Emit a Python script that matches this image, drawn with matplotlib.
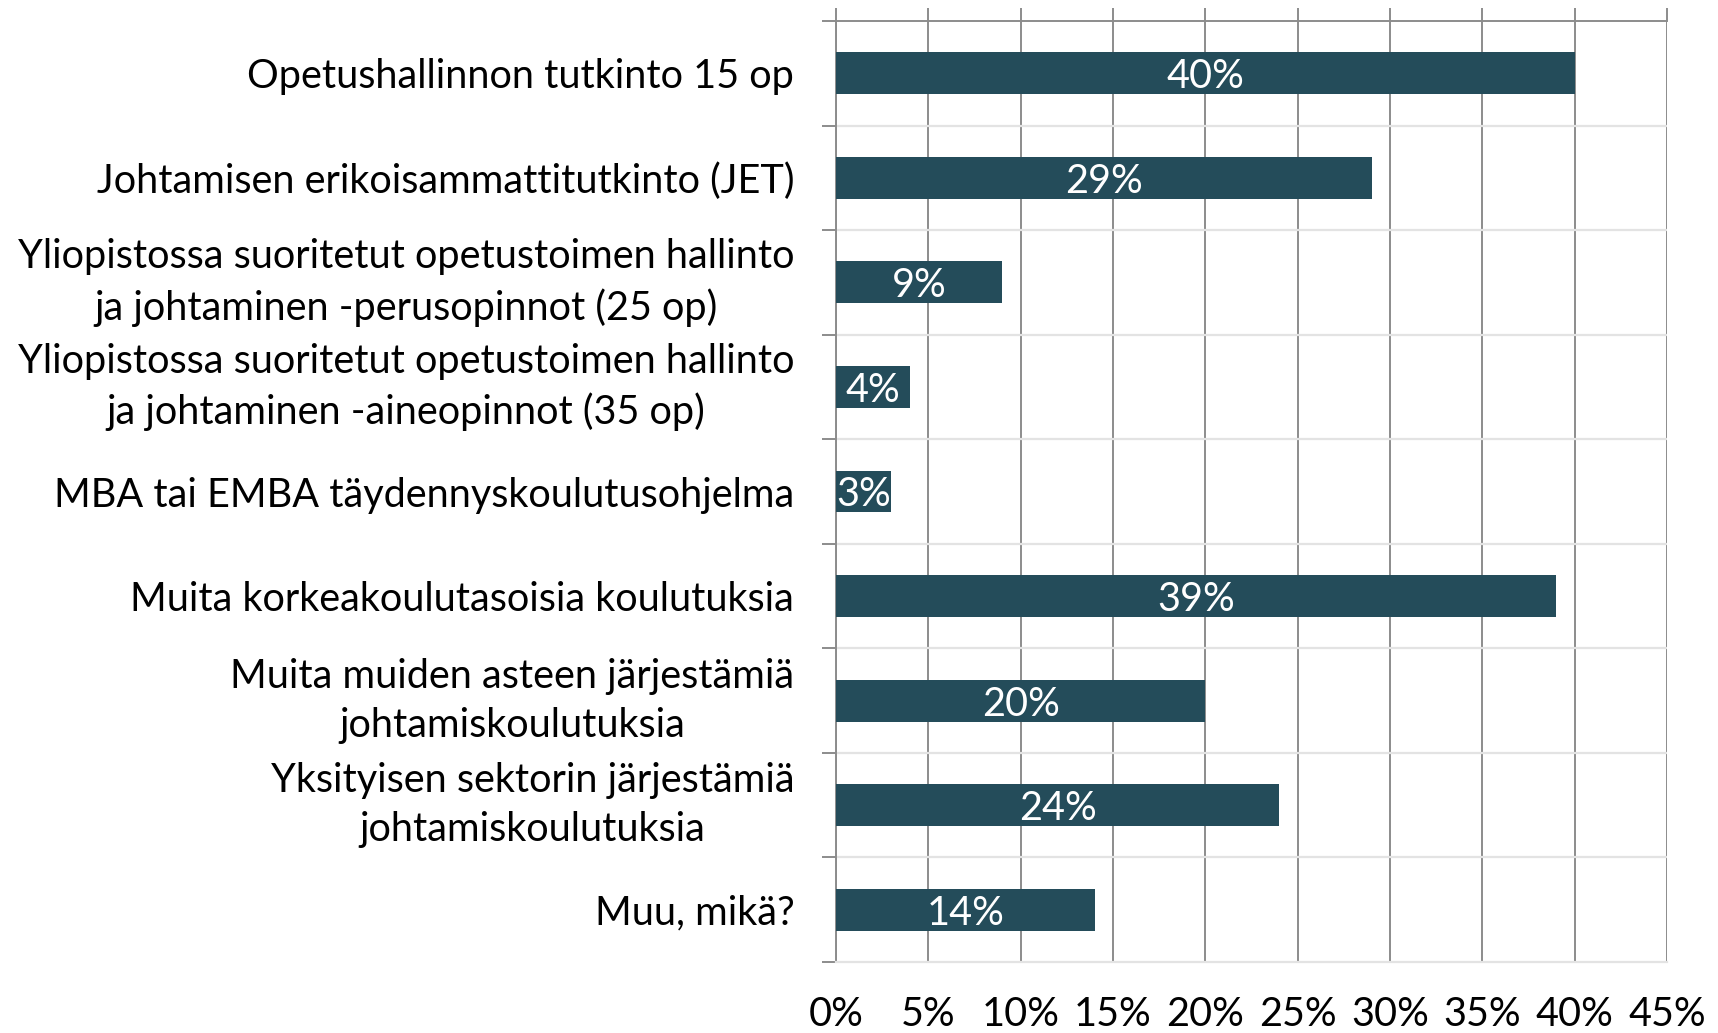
import matplotlib.pyplot as plt
import numpy as np

categories = [
    "Opetushallinnon tutkinto 15 op",
    "Johtamisen erikoisammattitutkinto (JET)",
    "Yliopistossa suoritetut opetustoimen hallinto\nja johtaminen -perusopinnot (25 op)",
    "Yliopistossa suoritetut opetustoimen hallinto\nja johtaminen -aineopinnot (35 op)",
    "MBA tai EMBA täydennyskoulutusohjelma",
    "Muita korkeakoulutasoisia koulutuksia",
    "Muita muiden asteen järjestämiä\njohtamiskoulutuksia",
    "Yksityisen sektorin järjestämiä\njohtamiskoulutuksia",
    "Muu, mikä?",
]
values = [40, 29, 9, 4, 3, 39, 20, 24, 14]
x_ticks = [0, 5, 10, 15, 20, 25, 30, 35, 40, 45]

bar_color = "#244C5A"
grid_dark = "#8C8C8C"
grid_light = "#E3E3E3"
font = ["Lato", "DejaVu Sans"]
fsize = 28.5

fig = plt.figure(figsize=(17.18, 10.33), dpi=100)
ax = fig.add_axes([836 / 1718, 1 - 962 / 1033, 831 / 1718, 941 / 1033])

y = np.arange(len(categories))
bars = ax.barh(y, values, height=0.4, color=bar_color, zorder=3)

ax.set_xlim(0, 45)
ax.set_ylim(len(categories) - 0.5, -0.5)

# data labels, clipped to their bar
for rect, v in zip(bars, values):
    t = ax.text(v / 2, rect.get_y() + rect.get_height() / 2, f"{v}%",
                ha="center", va="center_baseline", color="white", fontsize=fsize,
                family=font, zorder=4)
    t.set_clip_path(rect)

# vertical gridlines
ax.set_xticks(x_ticks)
ax.set_xticklabels([f"{t}%" for t in x_ticks], family=font, fontsize=fsize)
ax.grid(axis="x", color=grid_dark, linewidth=1.4, zorder=1)
ax.tick_params(axis="x", which="major", bottom=False, top=True, length=9.4,
               width=1.4, color=grid_dark, pad=15, direction="out")

# horizontal category separators
bounds = np.arange(len(categories) + 1) - 0.5
for b in bounds[1:-1]:
    ax.axhline(b, color=grid_light, linewidth=1.6, zorder=2)
ax.set_yticks(bounds, minor=True)
ax.tick_params(axis="y", which="minor", length=10, width=1.4, color=grid_dark)
ax.set_yticks(y)
ax.set_yticklabels(categories, family=font, fontsize=fsize,
                   multialignment="center", linespacing=1.4)
ax.tick_params(axis="y", which="major", length=0, pad=30)
for lbl in ax.get_yticklabels():
    if "\n" in lbl.get_text():
        lbl.set_va("center")

for side in ["left", "top"]:
    ax.spines[side].set_color(grid_dark)
    ax.spines[side].set_linewidth(1.4)
ax.spines["bottom"].set_color(grid_light)
ax.spines["bottom"].set_linewidth(1.6)
ax.spines["right"].set_visible(False)

fig.savefig("out.png", dpi=100)
